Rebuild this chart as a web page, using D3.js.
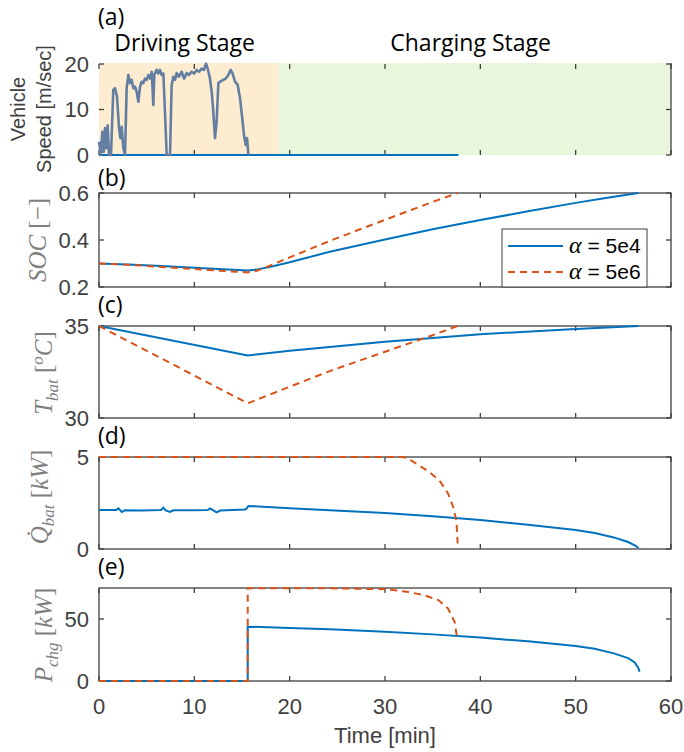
<!DOCTYPE html>
<html>
<head>
<meta charset="utf-8">
<script src="https://cdn.jsdelivr.net/npm/d3@7"></script>
<style>
  body { margin: 0; background: #fff; }
  svg { display: block; }
</style>
</head>
<body>
<div id="chart"></div>
<script>
// ---- data (time in minutes) ----
const timeTicks = [0, 10, 20, 30, 40, 50, 60];
const stages = [
  { name: "Driving Stage", from: 0, to: 18.8 },
  { name: "Charging Stage", from: 18.8, to: 60 }
];

// (a) vehicle speed [m/sec]
const speedTrace = [
  [0, 2.9], [0.2, 0], [0.35, 5.1], [0.49, 0.7], [0.63, 5.9], [0.77, 1.5], [0.91, 6.5], [1.05, 0],
  [1.26, 0], [1.5, 14.3], [1.68, 14.7], [1.89, 12.8], [2.1, 5.9], [2.24, 3.7], [2.38, 6.2], [2.55, 1.5],
  [2.73, 0], [2.9, 14.7], [3.08, 17.6], [3.25, 15.8], [3.43, 16.5], [3.6, 14.7], [3.78, 15], [3.95, 13.9],
  [4.13, 11.7], [4.3, 15], [4.48, 16.1], [4.65, 15.8], [4.83, 16.8], [5, 16.5], [5.18, 17.6], [5.35, 16.8],
  [5.53, 18.3], [5.7, 11], [5.8, 17.6], [6.05, 18.7], [6.22, 17.9], [6.4, 18.7], [6.57, 17.6], [6.75, 17.9],
  [6.92, 9.5], [7.1, 0], [7.45, 0], [7.62, 15.4], [7.8, 17.2], [7.97, 16.5], [8.15, 18], [8.39, 17.2],
  [8.67, 18.3], [8.92, 16.8], [9.2, 18], [9.44, 17.6], [9.72, 18.3], [9.97, 17.9], [10.25, 18.7], [10.49, 18.3],
  [10.77, 19], [11.01, 18.7], [11.22, 20.1], [11.4, 19], [11.64, 16.8], [11.82, 13.9], [11.99, 9.5], [12.17, 3.7],
  [12.34, 7.3], [12.52, 15.8], [12.69, 16.1], [13.04, 16.5], [13.29, 16.8], [13.57, 17.6], [13.81, 18.7], [14.02, 17.9],
  [14.27, 16.1], [14.55, 15.4], [14.79, 12.5], [14.97, 9.2], [15.21, 4.4], [15.39, 2.2], [15.53, 3.7], [15.67, 0]
];
const speedIdle = [[0, 0], [37.7, 0]];

// (b) state of charge [-]
const soc5e4 = [[0, 0.300], [3, 0.296], [6, 0.290], [9, 0.284], [12, 0.278], [15.6, 0.270], [16.5, 0.274],
  [18, 0.286], [20, 0.305], [24.2, 0.350], [30, 0.402], [35, 0.446], [40, 0.485], [45, 0.522], [50, 0.558],
  [53, 0.578], [56.6, 0.600]];
const soc5e6 = [[0, 0.300], [3, 0.295], [6, 0.287], [9, 0.279], [12, 0.271], [15.6, 0.262], [16.5, 0.268],
  [18, 0.292], [20, 0.326], [24.2, 0.396], [30, 0.486], [35, 0.562], [37.6, 0.600]];

// (c) battery temperature [oC]
const temp5e4 = [[0, 35], [15.6, 33.4], [20, 33.65], [24.2, 33.86], [30, 34.15], [40, 34.55], [50, 34.84], [56.6, 35]];
const temp5e6 = [[0, 35], [15.6, 30.8], [20, 31.7], [24.2, 32.55], [30, 33.6], [35, 34.5], [37.6, 35]];

// (d) battery cooling power [kW]
const qbat5e4 = [[0, 2.12], [1.8, 2.12], [2.03, 2.21], [2.4, 2.01], [2.7, 2.1], [4.5, 2.09], [6.5, 2.12],
  [6.75, 2.24], [7.0, 2.1], [7.45, 2.01], [7.8, 2.1], [10, 2.1], [11.4, 2.12], [11.64, 2.2], [12.0, 2.1],
  [12.34, 1.99], [12.7, 2.09], [15.3, 2.15], [15.5, 2.2], [15.67, 2.34], [20, 2.22], [24.2, 2.1], [30, 1.95],
  [35, 1.78], [40, 1.57], [45, 1.32], [50, 1.03], [52, 0.87], [54, 0.63], [55.5, 0.38], [56.3, 0.17], [56.6, 0.05]];
const qbat5e6 = [[0, 5], [31.8, 5], [32.3, 4.95], [33.5, 4.57], [34.7, 4.17], [35.8, 3.66], [36.6, 3.03],
  [37.2, 2.21], [37.5, 1.48], [37.6, 0.49], [37.62, 0.3]];

// (e) charging power [kW]
const pchg5e4 = [[0, 0], [15.6, 0], [15.6, 43.8], [20, 42.8], [24.2, 41.7], [30, 39.8], [35, 37.6], [40, 35],
  [45, 32], [50, 28.2], [52, 26], [54, 22.3], [55.5, 18.5], [56.2, 15], [56.6, 10], [56.7, 7.5]];
const pchg5e6 = [[0, 0], [15.6, 0], [15.6, 74.8], [24.2, 74.8], [30, 74], [32.3, 72], [34, 69.4], [35.6, 65.3],
  [36.6, 58.6], [37.3, 47.8], [37.6, 33]];

const legendLabels = ["5e4", "5e6"];

// ---- drawing ----
const W = 684, H = 752;
const axisColor = "#404040";
const blue = "#0072BD", orange = "#D95319";
const sans = "'Liberation Sans', Arial, sans-serif";
const serif = "'Liberation Serif', 'Times New Roman', serif";
const titleFont = "'Open Sans', sans-serif";

const svg = d3.select("#chart").append("svg")
  .attr("width", W).attr("height", H);

const x = d3.scaleLinear().domain([0, 60]).range([99, 671]);

// panel boxes (pixels) and their y axes
const panels = [
  { key: "a", top: 64, bottom: 155, domain: [0, 20], ticks: [0, 10, 20], fmt: d3.format("d"), labelY: 25 },
  { key: "b", top: 193, bottom: 287, domain: [0.2, 0.6], ticks: [0.2, 0.4, 0.6], fmt: d3.format(".1f"), labelY: 186,
    series: [soc5e4, soc5e6] },
  { key: "c", top: 326, bottom: 418, domain: [30, 35], ticks: [30, 35], fmt: d3.format("d"), labelY: 313,
    series: [temp5e4, temp5e6] },
  { key: "d", top: 457, bottom: 549, domain: [0, 5], ticks: [0, 5], fmt: d3.format("d"), labelY: 444,
    series: [qbat5e4, qbat5e6] },
  { key: "e", top: 588, bottom: 681, domain: [0, 75], ticks: [0, 50], fmt: d3.format("d"), labelY: 575,
    series: [pchg5e4, pchg5e6] }
];

function drawTicks(g, y, p) {
  const t = g.append("g").attr("stroke", axisColor).attr("stroke-width", 1.3);
  timeTicks.forEach(v => {
    t.append("line").attr("x1", x(v)).attr("x2", x(v)).attr("y1", p.bottom).attr("y2", p.bottom - 5);
    t.append("line").attr("x1", x(v)).attr("x2", x(v)).attr("y1", p.top).attr("y2", p.top + 5);
  });
  p.ticks.forEach(v => {
    t.append("line").attr("x1", x(0)).attr("x2", x(0) + 5).attr("y1", y(v)).attr("y2", y(v));
    t.append("line").attr("x1", x(60)).attr("x2", x(60) - 5).attr("y1", y(v)).attr("y2", y(v));
  });
  // tick labels on the left
  g.append("g").selectAll("text").data(p.ticks).enter().append("text")
    .attr("x", 89).attr("y", d => y(d)).attr("dy", "0.36em")
    .attr("text-anchor", "end")
    .attr("fill", axisColor).style("font", `22px ${sans}`)
    .text(d => p.fmt(d));
}

panels.forEach(p => {
  const g = svg.append("g").attr("id", "panel_" + p.key);
  const y = d3.scaleLinear().domain(p.domain).range([p.bottom, p.top]);
  p.y = y;

  const line = d3.line().x(d => x(d[0])).y(d => y(d[1]));

  if (p.key === "a") {
    // stage shading covers the box, only the right edge stays visible
    g.selectAll(".stage").data(stages).enter().append("rect")
      .attr("x", d => x(d.from)).attr("width", d => x(d.to) - x(d.from) - (d.to === 60 ? 1 : 0))
      .attr("y", p.top - 1).attr("height", p.bottom - p.top + 1)
      .attr("fill", (d, i) => i === 0 ? "#fdeccf" : "#e9f6dc");
    g.append("line").attr("stroke", axisColor).attr("stroke-width", 1.3)
      .attr("x1", x(60)).attr("x2", x(60)).attr("y1", p.top - 1).attr("y2", p.bottom);
    drawTicks(g, y, p);
    g.append("path").attr("d", line(speedIdle))
      .attr("fill", "none").attr("stroke", blue).attr("stroke-width", 2);
    g.append("path").attr("d", line(speedTrace))
      .attr("fill", "none").attr("stroke", "#637ea3").attr("stroke-width", 2.6)
      .attr("stroke-linejoin", "round");
    g.selectAll(".stageTitle").data(stages).enter().append("text")
      .attr("x", d => (x(d.from) + x(d.to)) / 2 - 4).attr("y", 51)
      .attr("text-anchor", "middle")
      .style("font", `23px ${titleFont}`).attr("fill", "#000")
      .text(d => d.name);
  } else {
    g.append("rect")
      .attr("x", x(0)).attr("y", p.top)
      .attr("width", x(60) - x(0)).attr("height", p.bottom - p.top)
      .attr("fill", "none").attr("stroke", axisColor).attr("stroke-width", 1.3);
    drawTicks(g, y, p);
    g.append("path").attr("d", line(p.series[0]))
      .attr("fill", "none").attr("stroke", blue).attr("stroke-width", 2);
    g.append("path").attr("d", line(p.series[1]))
      .attr("fill", "none").attr("stroke", orange).attr("stroke-width", 2)
      .attr("stroke-dasharray", "7,5");
  }

  g.append("text")
    .attr("x", 98).attr("y", p.labelY)
    .style("font", `23px ${titleFont}`).attr("fill", "#000")
    .text(`(${p.key})`);
});

// x tick labels + title under the last panel
svg.append("g").selectAll("text").data(timeTicks).enter().append("text")
  .attr("x", d => x(d)).attr("y", 714)
  .attr("text-anchor", "middle")
  .attr("fill", axisColor).style("font", `22px ${sans}`)
  .text(d => d);
svg.append("text")
  .attr("x", 385).attr("y", 743)
  .attr("text-anchor", "middle")
  .attr("fill", axisColor).style("font", `22px ${sans}`)
  .text("Time [min]");

// y labels
function rotated(xb, yc) {
  return svg.append("text")
    .attr("transform", `translate(${xb},${yc}) rotate(-90)`)
    .attr("text-anchor", "middle");
}
rotated(25, 109).attr("fill", axisColor).style("font", `20px ${sans}`).text("Vehicle");
rotated(51, 109).attr("fill", axisColor).style("font", `20px ${sans}`).text("Speed [m/sec]");

// latex-like labels: [text, kind] with kind i = italic, r = roman, sub / sup = small italic
function mathLabel(xb, yc, pieces) {
  const t = rotated(xb, yc).attr("fill", "#808080").style("font-family", serif).style("font-size", "25px");
  let shift = 0;
  pieces.forEach(([s, kind]) => {
    const target = kind === "sub" ? 6 : kind === "sup" ? -9 : 0;
    t.append("tspan")
      .attr("dy", target - shift)
      .style("font-style", kind === "r" ? "normal" : "italic")
      .style("font-size", kind === "sub" || kind === "sup" ? "17px" : "25px")
      .text(s);
    shift = target;
  });
}
mathLabel(46, 240, [["SOC", "i"], [" [\u2212]", "r"]]);
mathLabel(52, 373, [["T", "i"], ["bat", "sub"], [" [", "r"], ["o", "sup"], ["C", "i"], ["]", "r"]]);
mathLabel(48, 497, [["Q\u0307", "i"], ["bat", "sub"], [" [", "r"], ["kW", "i"], ["]", "r"]]);
mathLabel(52, 635, [["P", "i"], ["chg", "sub"], [" [", "r"], ["kW", "i"], ["]", "r"]]);

// legend inside panel (b)
const leg = svg.append("g").attr("id", "legend");
leg.append("rect")
  .attr("x", 502).attr("y", 229).attr("width", 145).attr("height", 58)
  .attr("fill", "#fff").attr("stroke", axisColor).attr("stroke-width", 1);
legendLabels.forEach((lab, i) => {
  const ly = 246 + i * 26;
  leg.append("line")
    .attr("x1", 508).attr("x2", 563).attr("y1", ly).attr("y2", ly)
    .attr("stroke", i === 0 ? blue : orange).attr("stroke-width", 2)
    .attr("stroke-dasharray", i === 0 ? null : "7,5");
  const t = leg.append("text").attr("x", 569).attr("y", ly + 7).attr("fill", "#000");
  t.append("tspan").style("font", `italic 24px ${serif}`).text("\u03b1");
  t.append("tspan").style("font", `21px ${sans}`).text(" = " + lab);
});
</script>
</body>
</html>
